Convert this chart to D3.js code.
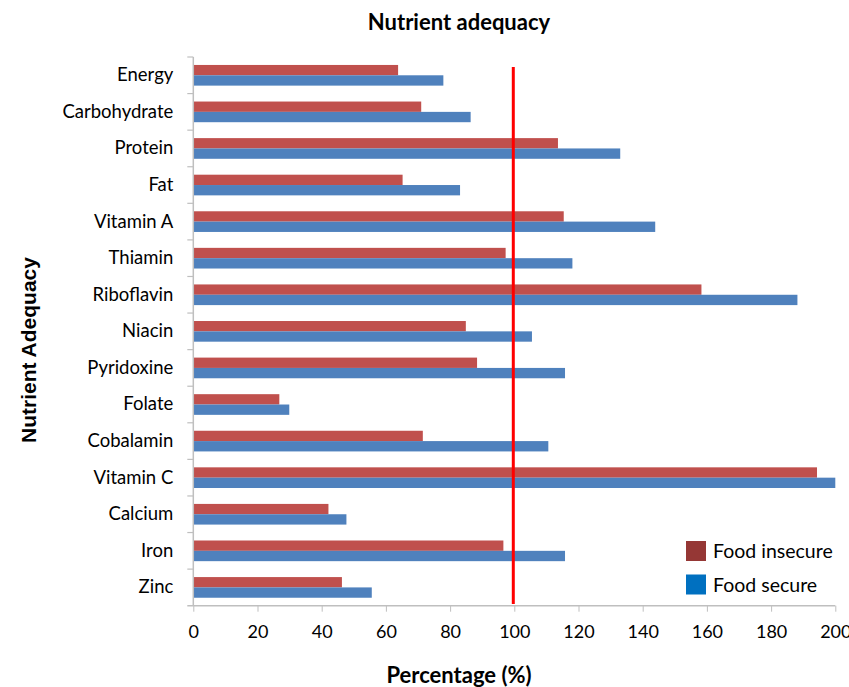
<!DOCTYPE html>
<html><head><meta charset="utf-8">
<script src="https://cdn.jsdelivr.net/npm/d3@7"></script>
<style>body{margin:0;background:#fff}svg{display:block}</style>
</head><body>
<svg id="c" width="849" height="687"></svg>
<script>
const categories = ["Energy","Carbohydrate","Protein","Fat","Vitamin A","Thiamin","Riboflavin","Niacin","Pyridoxine","Folate","Cobalamin","Vitamin C","Calcium","Iron","Zinc"];
const foodInsecure = [63.8,71.0,113.6,65.2,115.4,97.3,158.3,84.9,88.4,26.8,71.5,194.3,42.1,96.6,46.3];
const foodSecure = [77.9,86.4,133.0,83.1,143.9,118.1,188.2,105.5,115.8,29.9,110.6,200,47.7,115.8,55.6];
const xTicks = [0,20,40,60,80,100,120,140,160,180,200];
const referenceValue = 100;
const seriesNames = ["Food insecure","Food secure"];

const svg = d3.select("#c").style("font-family","Lato, 'Open Sans', sans-serif");
const L = 193.3, R = 835.3, T = 57, B = 605.7;
const x = d3.scaleLinear().domain([0,200]).range([L,R]);
const y = d3.scaleBand().domain(categories).range([T,B]).paddingInner(0.435).paddingOuter(0.2175);
const bh = y.bandwidth()/2;

// bars
const g = svg.append("g");
categories.forEach((c,i)=>{
  g.append("rect").attr("x",x(0)).attr("y",y(c)).attr("width",x(foodInsecure[i])-x(0)).attr("height",bh).attr("fill","#C0504D");
  g.append("rect").attr("x",x(0)).attr("y",y(c)+bh).attr("width",x(foodSecure[i])-x(0)).attr("height",bh).attr("fill","#4F81BD");
});

// axes
const ax = svg.append("g").attr("transform",`translate(0,${B})`).call(d3.axisBottom(x).tickValues(xTicks).tickSize(6).tickPadding(14));
ax.select(".domain").attr("stroke","#BFBFBF").attr("stroke-width",1.5).attr("d",`M${L-6},0H${R}`);
ax.selectAll(".tick line").attr("stroke","#BFBFBF");
ax.selectAll(".tick text").attr("font-size",18).attr("fill","#000").style("font-family","Lato");

const ay = svg.append("g").attr("transform",`translate(${L},0)`).call(d3.axisLeft(y).tickSize(0).tickPadding(20));
ay.select(".domain").attr("stroke","#BFBFBF").attr("stroke-width",1.5).attr("d",`M0,${T}V${B}`);
ay.selectAll(".tick text").attr("font-size",18.5).attr("fill","#000").style("font-family","Lato");
// category boundary ticks
const bounds = d3.range(categories.length).map(i=>T + i*(B-T)/categories.length);
svg.append("g").selectAll("line").data(bounds).join("line")
  .attr("x1",L-6).attr("x2",L).attr("y1",d=>d).attr("y2",d=>d).attr("stroke","#BFBFBF").attr("stroke-width",1.2);

// reference line
svg.append("line").attr("x1",x(referenceValue)-1).attr("x2",x(referenceValue)-1).attr("y1",67).attr("y2",604)
  .attr("stroke","#FF0000").attr("stroke-width",3);

// titles
svg.append("text").attr("x",459).attr("y",30).attr("text-anchor","middle").attr("font-size",22).attr("font-weight","bold").text("Nutrient adequacy");
svg.append("text").attr("x",459).attr("y",683).attr("text-anchor","middle").attr("font-size",22).attr("font-weight","bold").text("Percentage (%)");
svg.append("text").attr("transform","translate(36,350) rotate(-90)").attr("text-anchor","middle").attr("font-size",21).attr("font-weight","bold").style("font-family","'Liberation Sans', Arial, sans-serif").text("Nutrient Adequacy");

// legend
const legColors = ["#953735","#0070C0"];
seriesNames.forEach((n,i)=>{
  svg.append("rect").attr("x",686).attr("y",541+i*33.5).attr("width",20).attr("height",20).attr("fill",legColors[i]);
  svg.append("text").attr("x",713).attr("y",558+i*33.5).attr("font-size",19.5).text(n);
});
</script>
</body></html>
